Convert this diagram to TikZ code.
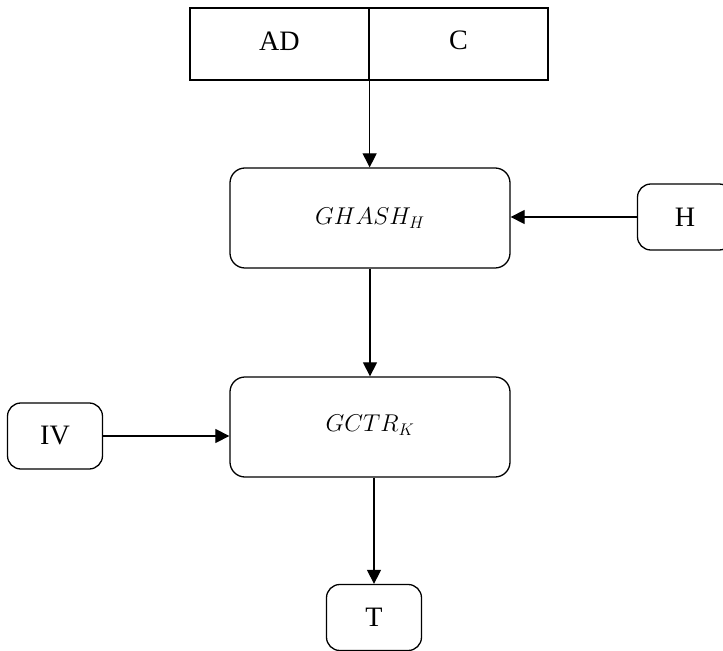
\documentclass[tikz,border=0pt]{standalone}
\usepackage{fontspec}
\setmainfont{Liberation Serif}
\usepackage{tikz}
\usetikzlibrary{arrows.meta,calc}
\tikzstyle{field} = [draw, line width=1.1pt, inner sep=0pt, minimum width=5.37cm, minimum height=2.16cm]
\tikzstyle{block} = [draw, line width=1.1pt, rounded corners=0.45cm, inner sep=0pt, minimum width=8.4cm, minimum height=3cm, font=\fontsize{22}{26}\selectfont]
\tikzstyle{small} = [draw, line width=1.1pt, rounded corners=0.4cm, inner sep=0pt, minimum width=2.85cm, minimum height=1.98cm]
\tikzstyle{flow} = [line width=1.1pt, -{Triangle[length=0.42cm,width=0.42cm]}]

\begin{document}
\begin{tikzpicture}[x=0.03cm,y=-0.03cm,font=\fontsize{24}{28}\selectfont]
  \def\xad{279.5,44}
  \def\xc{458.5,44}
  \def\xgh{370,218}
  \def\xgc{370,427}
  \def\xh{685,217}
  \def\xiv{55,436}
  \def\xt{374,617.5}
  \clip (0,0) rectangle (723,651);
  \node[field] (ad) at (\xad) {\raisebox{4pt}{AD}};
  \node[field] (c) at (\xc) {\raisebox{6pt}{C}};
  \node[block] (ghash) at (\xgh) {\raisebox{-2pt}{$GHASH_H$}};
  \node[block] (gctr) at (\xgc) {\raisebox{6pt}{$GCTR_K$}};
  \node[small] (h) at (\xh) {H};
  \node[small] (iv) at (\xiv) {IV};
  \node[small] (t) at (\xt) {T};
  \draw[flow] (ad.south east) -- (ad.south east |- ghash.north); % data in
  \draw[flow] (h.west) -- (h.west -| ghash.east);
  \draw[flow] (ghash.south) -- (gctr.north);
  \draw[flow] (iv.east) -- (iv.east -| gctr.west);
  \draw[flow] (gctr.south -| t.north) -- (t.north);
\end{tikzpicture}
\end{document}
